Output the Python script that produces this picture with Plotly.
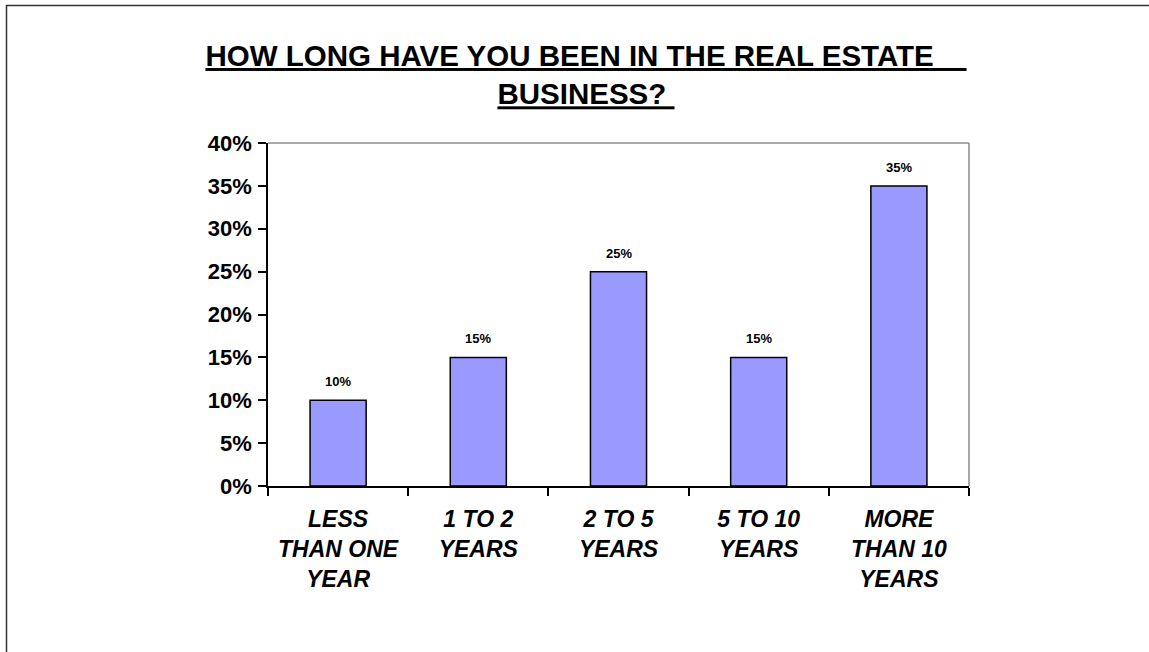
import plotly.graph_objects as go

# Survey responses: time spent in the real estate business
categories = [
    "LESS<br>THAN ONE<br>YEAR",
    "1 TO 2<br>YEARS",
    "2 TO 5<br>YEARS",
    "5 TO 10<br>YEARS",
    "MORE<br>THAN 10<br>YEARS",
]
shares = [0.10, 0.15, 0.25, 0.15, 0.35]
y_ticks = [0.0, 0.05, 0.10, 0.15, 0.20, 0.25, 0.30, 0.35, 0.40]

FONT = "Arial, 'Liberation Sans', sans-serif"
W, H = 1149, 652
M_L, M_R, M_T, M_B = 268, 180, 143, 166
PW, PH = W - M_L - M_R, H - M_T - M_B


def px_to_paper(x, y):
    return (x - M_L) / PW, (H - M_B - y) / PH


fig = go.Figure(
    go.Bar(
        x=categories,
        y=shares,
        width=0.4,
        marker=dict(color="#9999FF", line=dict(color="black", width=1.5)),
        hoverinfo="skip",
    )
)

# value labels above each bar
for cat, val in zip(categories, shares):
    fig.add_annotation(
        x=cat, y=val, text=f"<b>{val:.0%}</b>", showarrow=False,
        yanchor="bottom", yshift=9, font=dict(family=FONT, size=13, color="black"),
    )

# grey frame on the top and right of the plot area
fig.add_shape(type="line", xref="paper", yref="paper", x0=0, x1=1, y0=1, y1=1,
              line=dict(color="#8c8c8c", width=1.5))
fig.add_shape(type="line", xref="paper", yref="paper", x0=1, x1=1, y0=0, y1=1,
              line=dict(color="#8c8c8c", width=1.5))

# outer frame along the left and top edges of the slide
lx0, ly0 = px_to_paper(6.5, H)
lx1, ly1 = px_to_paper(6.5, 5.5)
rx1, _ = px_to_paper(W, 5.5)
fig.add_shape(type="path", xref="paper", yref="paper",
              path=f"M {lx0} {ly0} L {lx1} {ly1} L {rx1} {ly1}",
              line=dict(color="#333333", width=1.5))

nb = "\u00a0"
fig.update_layout(
    width=W, height=H,
    margin=dict(l=M_L, r=M_R, t=M_T, b=M_B, pad=0),
    paper_bgcolor="white", plot_bgcolor="white",
    showlegend=False,
    font=dict(family=FONT, color="black"),
    title=dict(
        text=f"<b><u>HOW LONG HAVE YOU BEEN IN THE REAL ESTATE{nb * 4}</u></b><br>"
             f"<b><u>BUSINESS?{nb}</u></b>",
        x=586 / W, xref="container", xanchor="center",
        y=1 - 66 / H, yref="container", yanchor="top",
        font=dict(family=FONT, size=29.5, color="black"),
    ),
    xaxis=dict(
        type="category",
        tickson="boundaries", ticks="outside", ticklen=8, tickcolor="black", tickwidth=1.5,
        showline=True, linecolor="black", linewidth=1.5,
        showgrid=False, zeroline=False,
        tickfont=dict(family=FONT, size=23, color="black", style="italic", weight="bold"),
        ticklabelstandoff=12,
        fixedrange=True,
    ),
    yaxis=dict(
        range=[0, 0.4], tickvals=y_ticks, tickformat=".0%",
        ticks="outside", ticklen=8, tickcolor="black", tickwidth=1.5,
        showline=True, linecolor="black", linewidth=1.5,
        showgrid=False, zeroline=False,
        tickfont=dict(family=FONT, size=22, color="black", weight="bold"),
        ticklabelstandoff=2,
        fixedrange=True,
    ),
)

fig.write_html("out.html", config={"displayModeBar": False})
